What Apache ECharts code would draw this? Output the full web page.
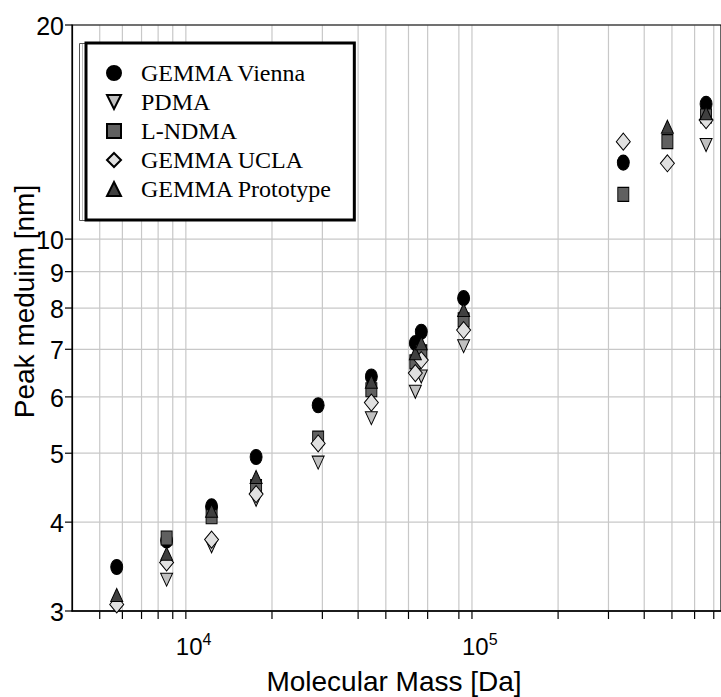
<!DOCTYPE html>
<html><head><meta charset="utf-8">
<script src="https://cdn.jsdelivr.net/npm/echarts@6.0.0/dist/echarts.min.js"></script>
<style>html,body{margin:0;padding:0;background:#fff}#c{width:721px;height:697px}</style>
</head><body><div id="c"></div>
<script>
const seriesNames = ['GEMMA Vienna', 'PDMA', 'L-NDMA', 'GEMMA UCLA', 'GEMMA Prototype'];
const molecularMass = [5733, 8565, 12300, 17600, 29000, 44500, 63400, 66500, 93500, 338000, 482000, 658000];
const gemmaVienna    = [3.46, 3.77, 4.21, 4.94, 5.84, 6.41, 7.14, 7.41, 8.26, 12.81, null, 15.49];
const pdma           = [null, 3.32, 3.70, 4.30, 4.85, 5.60, 6.10, 6.41, 7.07, null, null, 13.56];
const lNdma          = [null, 3.80, 4.07, 4.49, 5.25, 6.14, 6.72, 6.94, 7.70, 11.56, 13.71, 14.90];
const gemmaUcla      = [3.065, 3.51, 3.78, 4.38, 5.16, 5.89, 6.48, 6.76, 7.45, 13.71, 12.78, 14.70];
const gemmaPrototype = [3.16, 3.61, 4.15, 4.63, null, 6.30, 6.91, 7.14, 7.95, null, 14.39, 15.03];

const xGridValues = [5000, 6000, 7000, 8000, 9000, 10000, 20000, 30000, 40000, 50000, 60000, 70000, 90000,
                     100000, 200000, 300000, 400000, 500000, 600000, 700000];
const xLabelValues = [10000, 100000];
const xLabelBase = '10';
const xLabelExponents = ['4', '5'];
const yGridValues = [3, 4, 5, 6, 7, 8, 9, 10, 20];
const yTickLabels = ['3', '4', '5', '6', '7', '8', '9', '10', '20'];
const xTitle = 'Molecular Mass [Da]';
const yTitle = 'Peak meduim [nm]';

const X_MIN = 4000, X_MAX = 742000, Y_MIN = 3, Y_MAX = 20;
const SANS = 'Liberation Sans, Arial, sans-serif';
const SERIF = 'Liberation Serif, Times New Roman, serif';

function pairs(arr) {
  const out = [];
  arr.forEach((v, i) => { if (v !== null) out.push([molecularMass[i], v]); });
  return out;
}

const ELLIPSE = 'path://M0,10A10,10,0,1,1,20,10A10,10,0,1,1,0,10Z';
const DOWN_TRI = 'path://M0,0L10,0L5,10Z';

const seriesStyles = [
  { data: gemmaVienna, symbol: ELLIPSE, size: [12, 15], color: '#000000' },
  { data: pdma, symbol: DOWN_TRI, size: [12, 13], color: '#c0c0c0' },
  { data: lNdma, symbol: 'rect', size: [11, 14], color: '#606060' },
  { data: gemmaUcla, symbol: 'diamond', size: [14, 17], color: '#e0e0e0' },
  { data: gemmaPrototype, symbol: 'triangle', size: [12, 13], color: '#404040' }
];

const scatterSeries = seriesStyles.map((s, i) => ({
  name: seriesNames[i],
  type: 'scatter',
  z: 3,
  symbol: s.symbol,
  symbolSize: s.size,
  symbolKeepAspect: false,
  itemStyle: { color: s.color, borderColor: '#000', borderWidth: 1, opacity: 1 },
  emphasis: { disabled: true },
  data: pairs(s.data)
}));

const xGridSeries = {
  type: 'custom',
  z: -1,
  silent: true,
  clip: false,
  data: xGridValues.map(v => [v, Y_MIN]),
  encode: { x: 0, y: 1 },
  renderItem: function (params, api) {
    const v = api.value(0);
    const bot = api.coord([v, Y_MIN]);
    const top = api.coord([v, Y_MAX]);
    const children = [
      { type: 'line', shape: { x1: bot[0], y1: bot[1], x2: top[0], y2: top[1] },
        style: { stroke: '#c8c8c8', lineWidth: 1.2 } },
      { type: 'line', shape: { x1: bot[0], y1: bot[1], x2: bot[0], y2: bot[1] + 8 },
        style: { stroke: '#000', lineWidth: 1.2 } }
    ];
    const li = xLabelValues.indexOf(v);
    if (li >= 0) {
      children.push({
        type: 'text', x: bot[0] - 10, y: bot[1] + 35,
        style: {
          text: '{b|' + xLabelBase + '}{s|' + xLabelExponents[li] + '}',
          align: 'left', verticalAlign: 'middle', fill: '#000',
          rich: {
            b: { fontFamily: SANS, fontSize: 24, fill: '#000' },
            s: { fontFamily: SANS, fontSize: 16, fill: '#000', padding: [0, 0, 14, 0] }
          }
        }
      });
    }
    return { type: 'group', children: children };
  }
};

const yGridSeries = {
  type: 'custom',
  z: -1,
  silent: true,
  clip: false,
  data: yGridValues.map(v => [X_MIN, v]),
  encode: { x: 0, y: 1 },
  renderItem: function (params, api) {
    const v = api.value(1);
    const l = api.coord([X_MIN, v]);
    const r = api.coord([X_MAX, v]);
    const children = [
      { type: 'line', shape: { x1: l[0], y1: l[1], x2: r[0], y2: r[1] },
        style: { stroke: '#c8c8c8', lineWidth: 1.2 } },
      { type: 'line', shape: { x1: l[0] - 7, y1: l[1], x2: l[0], y2: l[1] },
        style: { stroke: '#000', lineWidth: 1.2 } },
      { type: 'text', x: l[0] - 8, y: l[1] + 1,
        style: { text: yTickLabels[params.dataIndex], align: 'right', verticalAlign: 'middle',
                 fontFamily: SANS, fontSize: 25, fill: '#000' } }
    ];
    return { type: 'group', children: children };
  }
};

const chart = echarts.init(document.getElementById('c'), null, { renderer: 'svg' });
chart.setOption({
  animation: false,
  backgroundColor: '#fff',
  grid: { left: 72, top: 25, right: 0, height: 586, show: true, borderColor: '#000', borderWidth: 1.2,
          backgroundColor: 'transparent', containLabel: false, outerBoundsMode: 'none' },
  xAxis: {
    type: 'log', logBase: 10, min: X_MIN, max: X_MAX,
    axisLine: { show: true, lineStyle: { color: '#000', width: 1.6 } },
    axisTick: { show: false }, axisLabel: { show: false }, splitLine: { show: false },
    name: xTitle, nameLocation: 'middle', nameGap: 56,
    nameTextStyle: { fontFamily: SANS, fontSize: 28, color: '#000', padding: [0, 5, 0, 0] }
  },
  yAxis: {
    type: 'log', logBase: 10, min: Y_MIN, max: Y_MAX,
    axisLine: { show: true, lineStyle: { color: '#000', width: 1.2 } },
    axisTick: { show: false }, axisLabel: { show: false }, splitLine: { show: false },
    name: yTitle, nameLocation: 'middle', nameGap: 34,
    nameTextStyle: { fontFamily: SANS, fontSize: 28, color: '#000', padding: [0, 0, 0, 33] }
  },
  legend: {
    orient: 'vertical', left: 86, top: 43, z: 5,
    data: seriesNames,
    itemWidth: 14, itemHeight: 14, itemGap: 5,
    padding: [18, 22, 19, 20],
    backgroundColor: '#fff', borderColor: '#000', borderWidth: 3, borderRadius: 0,
    textStyle: { fontFamily: SERIF, fontSize: 24, color: '#000', padding: [0, 0, 0, 15] },
    selectedMode: false
  },
  graphic: [
    { type: 'rect', z: 4, shape: { x: 79.5, y: 43.5, width: 20, height: 177 },
      style: { fill: '#fff', stroke: '#555', lineWidth: 1 } },
    { type: 'line', z: 4, shape: { x1: 82.5, y1: 44, x2: 82.5, y2: 220 },
      style: { stroke: '#bbb', lineWidth: 1 } }
  ],
  series: [xGridSeries, yGridSeries].concat(scatterSeries)
});
</script>
</body></html>
